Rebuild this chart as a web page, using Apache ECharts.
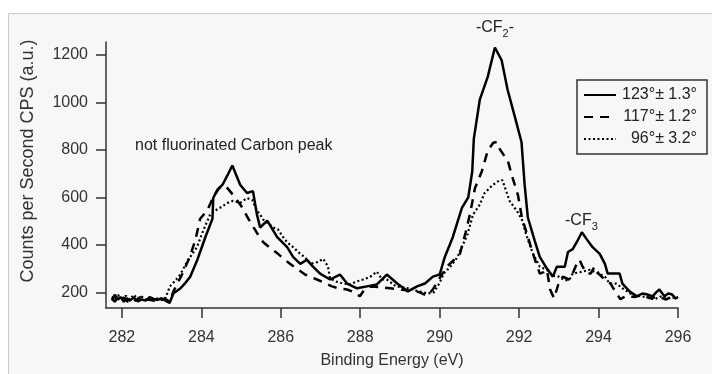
<!DOCTYPE html>
<html><head><meta charset="utf-8">
<script src="https://cdn.jsdelivr.net/npm/echarts@6/dist/echarts.min.js"></script>
<style>html,body{margin:0;padding:0;background:#fff}#c{width:712px;height:374px}</style>
</head><body><div id="c"></div>
<script>
const seriesNames = ['123°± 1.3°', '117°± 1.2°', '96°± 3.2°'];
const xTicks = [282, 284, 286, 288, 290, 292, 294, 296];
const yTicks = [200, 400, 600, 800, 1000, 1200];

const s123 = [[281.75,165],[281.82,190],[281.9,170],[281.97,180],[282.05,160],[282.12,175],[282.2,165],[282.3,178],[282.4,162],[282.5,170],[282.6,165],[282.7,180],[282.8,172],[282.9,168],[283.0,175],[283.1,165],[283.2,155],[283.3,196],[283.47,216],[283.6,240],[283.72,266],[283.9,337],[284.1,432],[284.2,475],[284.28,510],[284.3,597],[284.4,631],[284.53,652],[284.65,690],[284.78,734],[284.98,652],[285.15,618],[285.3,626],[285.4,527],[285.48,473],[285.66,502],[285.91,432],[286.16,390],[286.31,349],[286.49,320],[286.66,337],[286.81,308],[286.99,279],[287.24,254],[287.49,275],[287.67,237],[287.92,217],[288.17,225],[288.42,233],[288.67,275],[288.93,237],[289.2,204],[289.43,225],[289.63,237],[289.83,266],[290.0,275],[290.13,349],[290.33,432],[290.56,556],[290.72,600],[290.82,709],[290.86,846],[291.01,1011],[291.21,1107],[291.39,1231],[291.56,1177],[291.71,1053],[291.89,941],[292.06,833],[292.14,651],[292.22,515],[292.39,419],[292.52,349],[292.7,300],[292.85,266],[292.95,308],[293.15,308],[293.23,370],[293.35,382],[293.45,411],[293.58,453],[293.7,424],[293.85,390],[294.03,362],[294.16,320],[294.23,279],[294.53,279],[294.6,237],[294.78,204],[294.96,183],[295.1,195],[295.21,192],[295.36,183],[295.45,200],[295.53,212],[295.66,183],[295.75,195],[295.84,192],[295.96,171]];

const s117 = [[281.75,175],[281.82,160],[281.9,182],[281.97,168],[282.05,178],[282.15,160],[282.25,172],[282.35,165],[282.45,180],[282.55,162],[282.65,170],[282.8,165],[282.9,175],[283.0,168],[283.1,172],[283.2,160],[283.3,205],[283.5,270],[283.7,345],[283.85,420],[283.97,510],[284.15,545],[284.3,600],[284.45,640],[284.6,650],[284.8,610],[285.0,565],[285.2,505],[285.4,450],[285.56,411],[285.75,385],[285.93,362],[286.23,320],[286.4,300],[286.61,275],[286.91,254],[287.1,240],[287.29,225],[287.5,215],[287.67,212],[287.85,200],[287.99,183],[288.1,210],[288.25,225],[288.5,222],[288.75,217],[289.0,212],[289.3,205],[289.5,200],[289.68,185],[289.83,212],[290.0,260],[290.18,308],[290.35,335],[290.51,362],[290.65,450],[290.76,527],[290.89,639],[291.06,709],[291.21,796],[291.35,830],[291.44,833],[291.51,804],[291.72,751],[291.84,680],[291.97,610],[292.07,515],[292.2,444],[292.35,362],[292.52,279],[292.62,285],[292.7,295],[292.78,212],[292.88,175],[293.0,240],[293.1,266],[293.25,254],[293.35,280],[293.45,320],[293.52,337],[293.6,308],[293.7,280],[293.8,279],[293.9,308],[294.0,279],[294.15,254],[294.3,237],[294.45,196],[294.55,171],[294.7,185],[294.9,180],[295.1,190],[295.3,175],[295.5,182],[295.7,170],[295.9,185],[296.0,175]];

const s96 = [[281.75,182],[281.82,170],[281.9,188],[282.0,175],[282.1,185],[282.2,170],[282.3,190],[282.4,172],[282.5,182],[282.6,168],[282.7,178],[282.8,165],[282.9,175],[283.0,170],[283.1,178],[283.21,225],[283.35,250],[283.47,275],[283.67,337],[283.89,390],[284.05,461],[284.22,527],[284.35,545],[284.47,556],[284.67,577],[284.8,585],[284.98,577],[285.15,597],[285.28,589],[285.4,544],[285.48,527],[285.56,506],[285.81,473],[285.93,465],[286.06,432],[286.16,411],[286.31,390],[286.49,362],[286.6,349],[286.74,320],[286.94,328],[287.07,341],[287.19,308],[287.24,258],[287.4,245],[287.57,237],[287.74,233],[287.9,245],[288.07,254],[288.25,265],[288.42,287],[288.55,254],[288.67,254],[288.9,225],[289.2,217],[289.45,205],[289.6,200],[289.7,195],[289.85,200],[290.0,240],[290.1,279],[290.27,308],[290.45,349],[290.7,444],[290.84,527],[291.01,569],[291.13,618],[291.33,651],[291.51,672],[291.58,672],[291.76,585],[291.94,544],[292.07,506],[292.2,432],[292.35,362],[292.52,308],[292.7,295],[292.85,270],[293.0,266],[293.15,250],[293.27,254],[293.35,279],[293.6,287],[293.78,295],[293.98,280],[294.16,266],[294.28,237],[294.45,237],[294.6,217],[294.8,195],[295.0,185],[295.2,180],[295.4,170],[295.6,185],[295.8,175],[296.0,180]];

const FONT = '"Liberation Sans", Arial, Helvetica, sans-serif';
const AX = '#333';
const chart = echarts.init(document.getElementById('c'));
const lineTypes = ['solid', [9, 7], [2, 2.5]];
const widths = [2.5, 2.5, 2.2];
const datas = [s123, s117, s96];

chart.setOption({
  animation: false,
  backgroundColor: '#ffffff',
  textStyle: { fontFamily: FONT },
  graphic: [
    { type: 'rect', z: -10, silent: true, shape: { x: 8.5, y: 13.5, width: 720, height: 400 },
      style: { fill: '#f7f7f7', stroke: '#cccccc', lineWidth: 1 } },
    { type: 'text', z: 10, silent: true, x: 28, y: 161, rotation: Math.PI / 2,
      style: { text: 'Counts per Second CPS (a.u.)', fontSize: 18, fontFamily: FONT, fill: '#333', align: 'center', verticalAlign: 'middle' } },
    { type: 'text', z: 10, silent: true, x: 135, y: 146,
      style: { text: 'not fluorinated Carbon peak', fontSize: 16, fontFamily: FONT, fill: '#222', align: 'left', verticalAlign: 'middle' } },
    { type: 'text', z: 10, silent: true, x: 495, y: 28,
      style: { text: '{n|-CF}{s|2}{n|-}', fontFamily: FONT, fill: '#222', align: 'center', verticalAlign: 'middle',
        rich: { n: { fontSize: 16, lineHeight: 22, fontFamily: FONT }, s: { fontSize: 11, lineHeight: 11, verticalAlign: 'bottom', fontFamily: FONT } } } },
    { type: 'text', z: 10, silent: true, x: 565, y: 221,
      style: { text: '{n|-CF}{s|3}', fontFamily: FONT, fill: '#222', align: 'left', verticalAlign: 'middle',
        rich: { n: { fontSize: 16, lineHeight: 22, fontFamily: FONT }, s: { fontSize: 11, lineHeight: 11, verticalAlign: 'bottom', fontFamily: FONT } } } }
  ],
  grid: { left: 106, right: 34, top: 42, bottom: 62 },
  legend: {
    orient: 'vertical', left: 577, top: 80, padding: [7, 10, 7, 6], itemGap: 6,
    itemWidth: 32, itemHeight: 14, borderColor: '#333', borderWidth: 1.5, backgroundColor: '#f7f7f7',
    selectedMode: false,
    data: seriesNames,
    itemStyle: { color: 'rgba(0,0,0,0)', borderColor: 'rgba(0,0,0,0)', borderWidth: 0, opacity: 0 },
    formatter: n => '{a|' + n + '}',
    textStyle: { rich: { a: { width: 76, align: 'right', fontSize: 16, lineHeight: 14, color: '#222', fontFamily: FONT } } }
  },
  xAxis: {
    type: 'value', min: 281.6, max: 296,
    name: 'Binding Energy (eV)', nameLocation: 'middle', nameGap: 45,
    nameTextStyle: { fontSize: 16, color: '#333', fontFamily: FONT },
    axisLine: { onZero: false, lineStyle: { color: AX, width: 1.5 } },
    axisTick: { show: true, inside: false, length: 10, customValues: xTicks, lineStyle: { color: AX, width: 1.5 } },
    axisLabel: { customValues: xTicks, fontSize: 16, color: '#333', margin: 22, fontFamily: FONT, formatter: v => String(v) },
    splitLine: { show: false }
  },
  yAxis: {
    type: 'value', min: 134, max: 1254,
    axisLine: { show: true, onZero: false, lineStyle: { color: AX, width: 1.5 } },
    axisTick: { show: true, inside: false, length: 10, customValues: yTicks, lineStyle: { color: AX, width: 1.5 } },
    axisLabel: { customValues: yTicks, fontSize: 16, color: '#333', margin: 18, fontFamily: FONT, formatter: v => String(v) },
    splitLine: { show: false }
  },
  series: seriesNames.map((name, i) => ({
    type: 'line', name: name, data: datas[i], symbol: 'none', showSymbol: false,
    itemStyle: { color: '#000' },
    lineStyle: { color: '#000', width: widths[i], type: lineTypes[i] },
    z: 3 - i
  }))
});
</script></body></html>
